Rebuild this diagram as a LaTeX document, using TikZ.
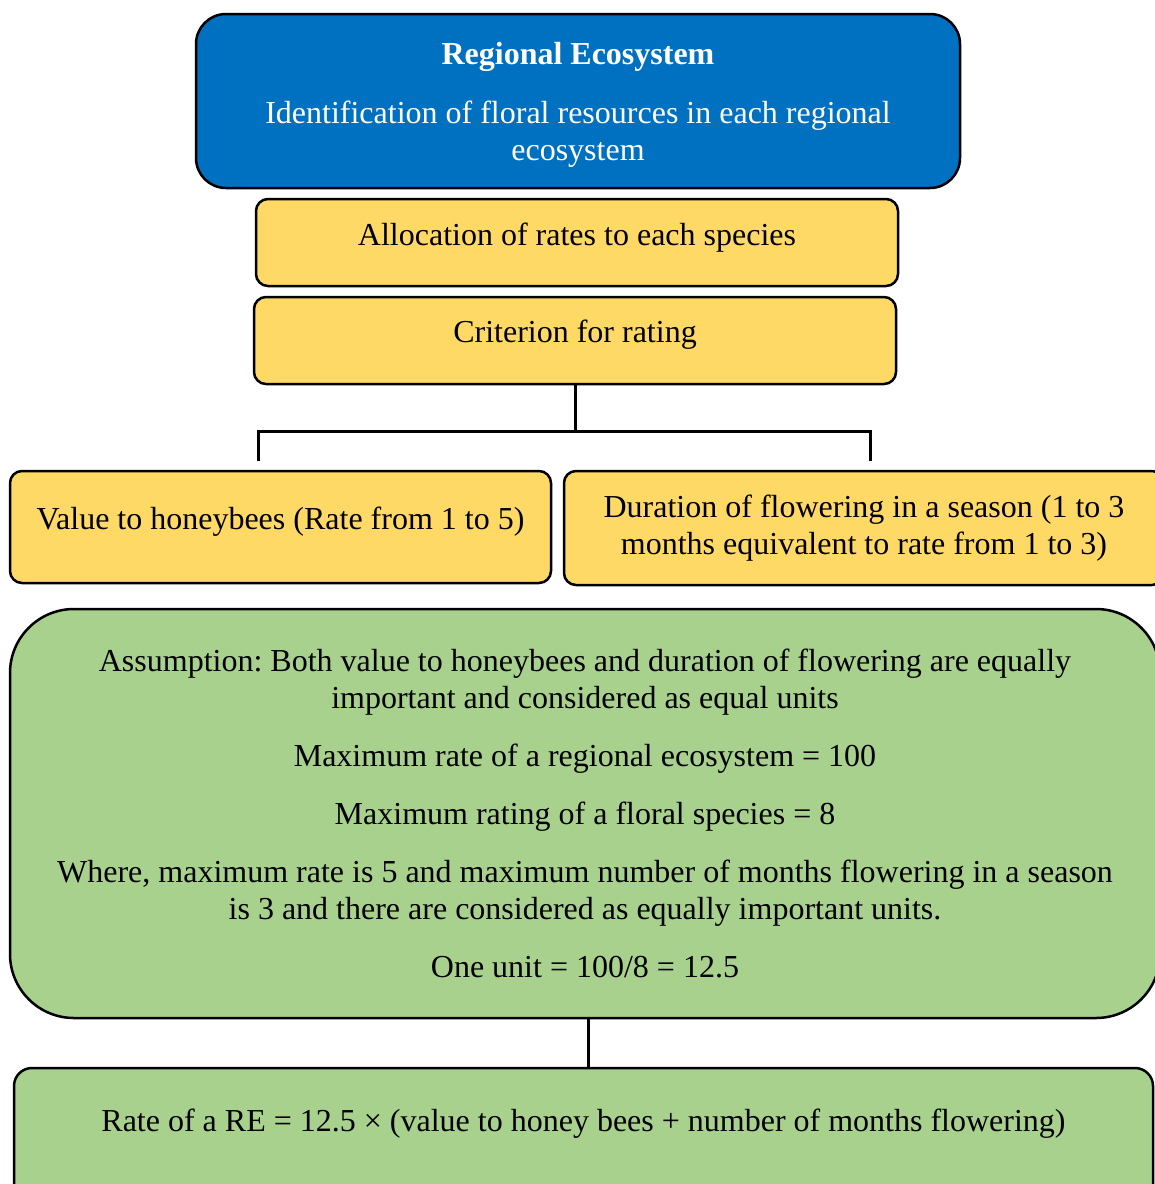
\documentclass[tikz,border=0pt]{standalone}
\usepackage{fontspec}
\setmainfont{Liberation Serif}
\definecolor{reblue}{HTML}{0070C0}
\definecolor{rateyellow}{HTML}{FFD966}
\definecolor{unitgreen}{HTML}{A9D18E}
\begin{document}
\frenchspacing
\begin{tikzpicture}[x=0.5pt, y=-0.5pt,
  box/.style={draw=black, line width=1.25pt, align=center,
    font=\fontsize{16}{18.5}\selectfont},
  bluebox/.style={box, fill=reblue, text=white, rounded corners=15pt},
  yellowbox/.style={box, fill=rateyellow, rounded corners=6pt},
  greenbox/.style={box, fill=unitgreen},
  lift/.style={text depth=#1},
  link/.style={line width=1.5pt}]
  \useasboundingbox (0,0) rectangle (1155,1184);
  \node[bluebox, lift=0pt, minimum width=382pt, minimum height=87pt] (region) at (578,101)
    {\textbf{Regional Ecosystem}\\[11pt]
     Identification of floral resources in each regional\\ ecosystem};
  \node[yellowbox, lift=8.5pt, minimum width=321pt, minimum height=43.5pt] (alloc) at (577,242.5)
    {Allocation of rates to each species};
  \node[yellowbox, lift=9.5pt, minimum width=321pt, minimum height=43.5pt] (crit) at (575,340.5)
    {Criterion for rating};
  \node[yellowbox, lift=9pt, minimum width=270.5pt, minimum height=56pt] (value) at (280.5,527)
    {Value to honeybees (Rate from 1 to 5)};
  \node[yellowbox, minimum width=300pt, minimum height=57pt] (duration) at (864,528)
    {Duration of flowering in a season (1 to 3\\ months equivalent to rate from 1 to 3)};
  \node[greenbox, rounded corners=32pt, minimum width=575pt, minimum height=204.5pt] (assume) at (585,813.5)
    {Assumption: Both value to honeybees and duration of flowering are equally\\
     important and considered as equal units\\[10.5pt]
     Maximum rate of a regional ecosystem = 100\\[10.5pt]
     Maximum rating of a floral species = 8\\[10.5pt]
     Where, maximum rate is 5 and maximum number of months flowering in a season\\
     is 3 and there are considered as equally important units.\\[10.5pt]
     One unit = 100/8 = 12.5};
  \node[greenbox, lift=38pt, rounded corners=9pt, minimum width=569.5pt, minimum height=90pt] (formula) at (583.5,1158)
    {Rate of a RE = 12.5 × (value to honey bees + number of months flowering)};
  % fork under the rating criterion
  \coordinate (forkL) at (258,431);
  \coordinate (forkR) at (870,431);
  \coordinate (legL) at (258,461);
  \coordinate (legR) at (870,461);
  \coordinate (drop) at ([xshift=1.5pt]assume.south);
  \draw[link] (crit.south) -- (crit.south |- forkL);
  \draw[link] (legL) -- (forkL) -- (forkR) -- (legR);
  \draw[link] (drop) -- (drop |- formula.north);
\end{tikzpicture}
\end{document}
